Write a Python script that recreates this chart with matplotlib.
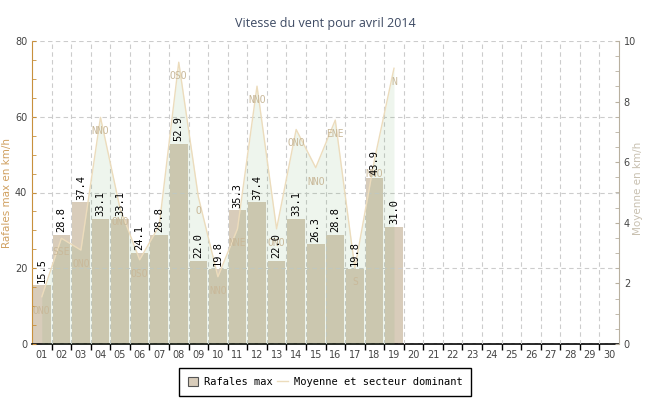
import matplotlib
matplotlib.use("Agg")
import matplotlib.pyplot as plt
from matplotlib.patches import Patch
from matplotlib.lines import Line2D

days = [f"{d:02d}" for d in range(1, 31)]
rafales = [15.5, 28.8, 37.4, 33.1, 33.1, 24.1, 28.8, 52.9, 22.0, 19.8,
           35.3, 37.4, 22.0, 33.1, 26.3, 28.8, 19.8, 43.9, 31.0]
moyenne = [1.56, 3.49, 3.10, 7.48, 4.47, 2.78, 3.90, 9.30, 4.86, 2.22,
           3.80, 8.51, 3.80, 7.08, 5.82, 7.39, 2.50, 6.07, 9.10]
secteur = ["ONO", "SSE", "ONO", "NNO", "ONO", "OSO", "", "OSO", "O", "NNO",
           "NNE", "NNO", "ONO", "ONO", "NNO", "ENE", "S", "NNO", "N"]

W, H = 650, 400
fig = plt.figure(figsize=(W / 100, H / 100), dpi=100)
L, R, T, B = 32, 619, 41, 344
ax = fig.add_axes([L / W, 1 - B / H, (R - L) / W, (B - T) / H])
ax2 = ax.twinx()

x_all = list(range(1, len(days) + 1))
x = x_all[:len(rafales)]

bar_col = "#d8ccba"
ax.bar(x, rafales, width=0.9, color=bar_col, edgecolor="none", zorder=1)

ax.set_xlim(0.5, len(days) + 0.5)
ax.set_ylim(0, 80)
ax2.set_ylim(0, 10)

# grid
ax.set_axisbelow(False)
ax.set_xticks(x_all)
ax.set_xticklabels(days)
ax.set_xticks([i + 0.5 for i in x_all[:-1]], minor=True)
ax.set_yticks([0, 20, 40, 60, 80])
ax.set_yticks(range(0, 81, 5), minor=True)
ax.grid(which="minor", axis="x", color="#cccccc", linestyle=(0, (4, 3)), linewidth=0.8)
ax.grid(which="major", axis="y", color="#cccccc", linestyle=(0, (4, 3)), linewidth=0.8)

ax.tick_params(axis="x", which="major", length=0, labelsize=7, labelcolor="#444444", pad=4)
ax.tick_params(axis="x", which="minor", length=4, width=1, color="black", direction="out")
ax.tick_params(axis="y", which="both", direction="in", length=3, color="#c8903c",
               labelsize=7, labelcolor="#444444")

ax2.set_yticks(range(0, 11, 2))
ax2.set_yticks([i * 0.5 for i in range(21)], minor=True)
ax2.tick_params(axis="y", which="both", direction="in", length=3, color="#b8b0a0",
                labelsize=7, labelcolor="#444444")

for sp in ["top"]:
    ax.spines[sp].set_visible(False)
    ax2.spines[sp].set_visible(False)
ax.spines["left"].set_color("#c8903c")
ax.spines["bottom"].set_color("black")
ax.spines["bottom"].set_linewidth(1.2)
ax.spines["right"].set_visible(False)
ax2.spines["left"].set_visible(False)
ax2.spines["bottom"].set_visible(False)
ax2.spines["right"].set_color("#b8b0a0")

# area + line
ax2.fill_between(x, 0, moyenne, color="#5aa050", alpha=0.10, linewidth=0, zorder=2)
line_col = "#ecdcbc"
ax2.plot(x, moyenne, color=line_col, linewidth=1, zorder=3)

for xi, m, s in zip(x, moyenne, secteur):
    if s:
        ax2.annotate(s, (xi, m), xytext=(0, -10), textcoords="offset points",
                     ha="center", va="center", fontsize=7, color="#c9b99a",
                     family="DejaVu Sans Mono", zorder=4)

for xi, v in zip(x, rafales):
    ax2.annotate(f"{v:.1f}", (xi, v), xycoords=ax.transData, xytext=(0, 2),
                 textcoords="offset points", rotation=90, ha="center", va="bottom",
                 fontsize=7.5, color="black", family="DejaVu Sans Mono", zorder=5)

ax.set_ylabel("Rafales max en km/h", color="#d0a060", fontsize=7.5)
ax.yaxis.set_label_coords(-0.034, 0.5)
ax2.set_ylabel("Moyenne en km/h", color="#c8c0b0", fontsize=7.5)
ax2.yaxis.set_label_coords(1.024, 0.515)

fig.text(0.5, 1 - 24 / H, "Vitesse du vent pour avril 2014", ha="center", va="center",
         fontsize=9, color="#3d4a63", family="Open Sans")

handles = [Patch(facecolor=bar_col, edgecolor="#555555", linewidth=0.8),
           Line2D([0], [0], color=line_col, linewidth=1)]
leg = fig.legend(handles, ["Rafales max", "Moyenne et secteur dominant"], loc="center",
                 bbox_to_anchor=(0.5, 1 - 382 / H), ncol=2, fancybox=False,
                 edgecolor="black", framealpha=1, handlelength=1.0, handleheight=1.0,
                 handletextpad=0.6, columnspacing=0.4, borderpad=0.85,
                 prop={"family": "DejaVu Sans Mono", "size": 7.5})
leg.get_frame().set_linewidth(1)

fig.savefig("out.png", dpi=100)
